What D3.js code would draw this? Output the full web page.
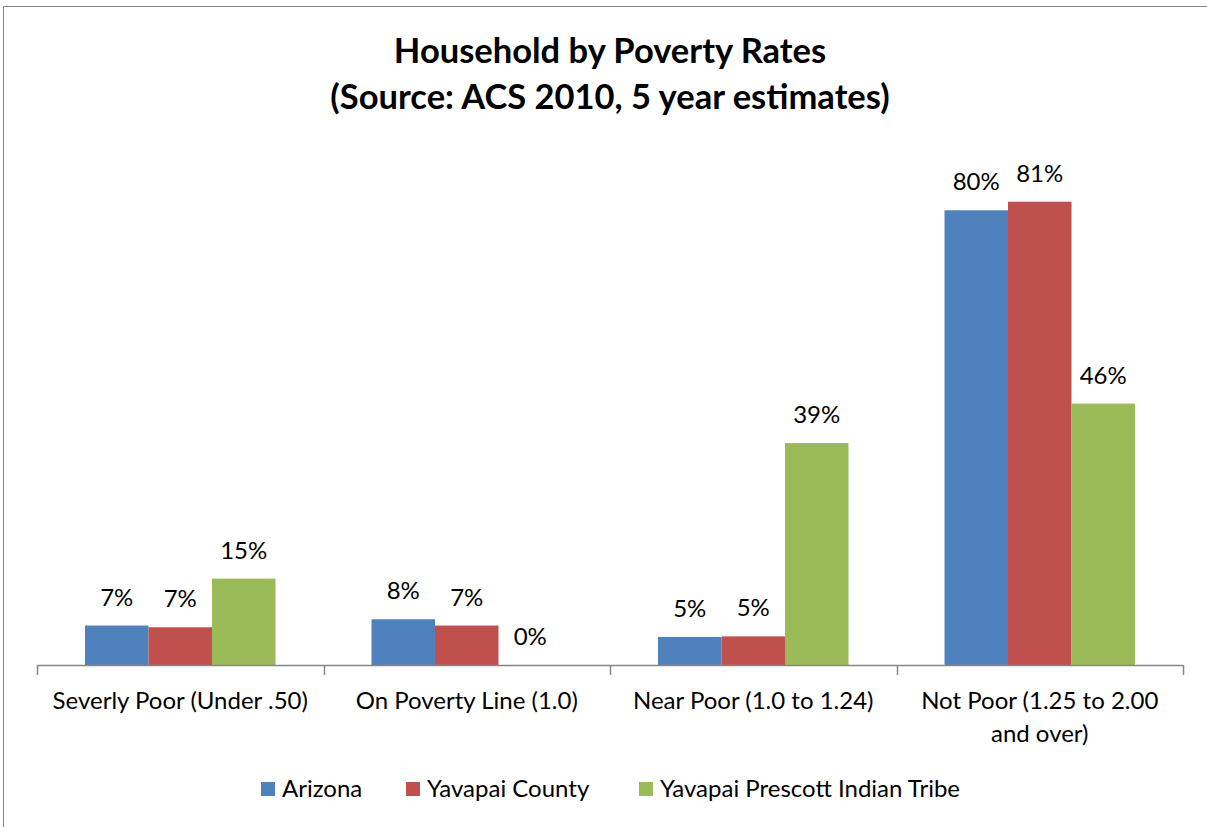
<!DOCTYPE html>
<html>
<head>
<meta charset="utf-8">
<script src="https://cdn.jsdelivr.net/npm/d3@7"></script>
<style>
    body { margin: 0; background: #fff; }
    text { font-family: Lato, "Open Sans", sans-serif; fill: #000; }
</style>
</head>
<body>
<div id="chart"></div>
<script>
// data
var categories = ["Severly Poor (Under .50)", "On Poverty Line (1.0)", "Near Poor (1.0 to 1.24)", "Not Poor (1.25 to 2.00 and over)"];
var seriesNames = ["Arizona", "Yavapai County", "Yavapai Prescott Indian Tribe"];
var arizona = [0.069, 0.080, 0.049, 0.795];
var yavapaiCounty = [0.066, 0.069, 0.050, 0.810];
var yavapaiTribe = [0.151, 0.0, 0.388, 0.457];
var colors = ["#4F81BD", "#C0504D", "#9BBB59"];
var titleLines = ["Household by Poverty Rates", "(Source: ACS 2010, 5 year estimates)"];

var seriesValues = [arizona, yavapaiCounty, yavapaiTribe];

var svgWidth = 1207;
var svgHeight = 827;

var margin = { top: 93, right: 24, bottom: 162, left: 37 };
var width = svgWidth - margin.left - margin.right;
var height = svgHeight - margin.top - margin.bottom;

var svg = d3.select("#chart")
    .append("svg")
    .attr("width", svgWidth)
    .attr("height", svgHeight);

// outer chart border
svg.append("rect")
    .attr("x", 3.5)
    .attr("y", 6.5)
    .attr("width", svgWidth + 10)
    .attr("height", svgHeight + 10)
    .attr("fill", "none")
    .attr("stroke", "#868686")
    .attr("stroke-width", 1);

// title
svg.append("text")
    .attr("x", 610)
    .attr("y", 63)
    .attr("text-anchor", "middle")
    .style("font-weight", "bold")
    .style("font-size", "34.5px")
    .selectAll("tspan")
    .data(titleLines)
    .enter()
    .append("tspan")
    .attr("x", 610)
    .attr("dy", (d, i) => i === 0 ? 0 : 46)
    .text(d => d);

var chartGroup = svg.append("g")
    .attr("transform", `translate(${margin.left}, ${margin.top})`);

// scales
var x0 = d3.scaleBand()
    .domain(categories)
    .range([0, width])
    .padding(0);

var x1 = d3.scaleBand()
    .domain(seriesNames)
    .range([0, x0.bandwidth()])
    .paddingInner(0)
    .paddingOuter(0.756);

var yScale = d3.scaleLinear()
    .domain([0, 1])
    .range([height, 0]);

var color = d3.scaleOrdinal()
    .domain(seriesNames)
    .range(colors);

var fmt = d3.format(".0%");

// bars
var groups = chartGroup.selectAll(".cat")
    .data(categories)
    .enter()
    .append("g")
    .attr("class", "cat")
    .attr("transform", d => `translate(${x0(d)}, 0)`);

var cells = groups.selectAll("g")
    .data((d, i) => seriesNames.map((s, j) => ({ series: s, value: seriesValues[j][i] })))
    .enter()
    .append("g");

cells.append("rect")
    .attr("x", d => x1(d.series))
    .attr("width", x1.bandwidth())
    .attr("y", d => yScale(d.value))
    .attr("height", d => height - yScale(d.value))
    .attr("fill", d => color(d.series));

cells.append("text")
    .attr("x", d => x1(d.series) + x1.bandwidth() / 2)
    .attr("y", d => yScale(d.value) - 20)
    .attr("text-anchor", "middle")
    .style("font-size", "24px")
    .text(d => fmt(d.value));

// x axis: line with ticks at category boundaries
var axisGroup = chartGroup.append("g")
    .attr("transform", `translate(0, ${height})`);

axisGroup.append("line")
    .attr("x1", 0)
    .attr("x2", width)
    .attr("y1", 0.5)
    .attr("y2", 0.5)
    .attr("stroke", "#868686")
    .attr("stroke-width", 1.5);

var boundaries = categories.map(d => x0(d)).concat([x0.range()[1]]);

axisGroup.selectAll(".tick")
    .data(boundaries)
    .enter()
    .append("line")
    .attr("class", "tick")
    .attr("x1", d => Math.round(d) + 0.5)
    .attr("x2", d => Math.round(d) + 0.5)
    .attr("y1", 0)
    .attr("y2", 10)
    .attr("stroke", "#868686")
    .attr("stroke-width", 1.5);

// category labels, wrapped to band width
var catLabels = axisGroup.selectAll(".catlabel")
    .data(categories)
    .enter()
    .append("text")
    .attr("class", "catlabel")
    .attr("text-anchor", "middle")
    .attr("y", 44)
    .style("font-size", "24px")
    .text(d => d);

catLabels.each(function(d) {
    var el = d3.select(this);
    var cx = x0(d) + x0.bandwidth() / 2;
    var words = d.split(" ");
    el.text(null);
    var line = [];
    var tspan = el.append("tspan").attr("x", cx).attr("dy", 0);
    words.forEach(function(w) {
        line.push(w);
        tspan.text(line.join(" "));
        if (tspan.node().getComputedTextLength() > x0.bandwidth() - 22 && line.length > 1) {
            line.pop();
            tspan.text(line.join(" "));
            line = [w];
            tspan = el.append("tspan").attr("x", cx).attr("dy", 33).text(w);
        }
    });
});

// legend
var legendX = [261, 406, 639];
var legend = svg.append("g")
    .attr("transform", "translate(0, 782)");

var items = legend.selectAll("g")
    .data(seriesNames)
    .enter()
    .append("g")
    .attr("transform", (d, i) => `translate(${legendX[i]}, 0)`);

items.append("rect")
    .attr("width", 14)
    .attr("height", 14)
    .attr("fill", d => color(d));

items.append("text")
    .attr("x", 21)
    .attr("y", 15)
    .style("font-size", "24px")
    .text(d => d);
</script>
</body>
</html>
